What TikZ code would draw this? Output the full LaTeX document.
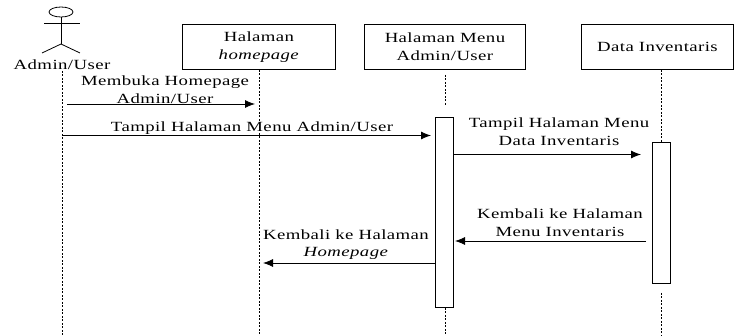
\documentclass[tikz,border=0pt]{standalone}
\usepackage{fontspec}
\setmainfont[FakeStretch=1.34,LetterSpace=3]{Liberation Serif}
\usetikzlibrary{arrows.meta, shapes.geometric}

\begin{document}
\begin{tikzpicture}[
		x=1pt, y=-1pt,
		every node/.style={font=\fontsize{14}{17.5}\selectfont, align=center},
		pagebox/.style={rectangle, draw, line width=0.9pt, anchor=north west, inner sep=0pt},
		activebox/.style={rectangle, draw, line width=0.9pt, fill=white, anchor=north, minimum width=18pt, inner sep=0pt},
		lifeline/.style={dash pattern=on 2pt off 1.5pt, line width=0.9pt},
		message/.style={-{Latex[length=10pt,width=8pt]}, line width=0.8pt},
		stick/.style={line width=0.8pt}
	]
	\useasboundingbox (0,0) rectangle (734,336);

	% aktor
	\node[ellipse, draw, stick, minimum width=24pt, minimum height=10pt, inner sep=0pt] (head) at (61,12) {};
	\coordinate (armL) at (44,23.5);
	\coordinate (armR) at (80,23.5);
	\coordinate (hip) at (61,44);
	\coordinate (legL) at (42,53);
	\coordinate (legR) at (80,53);
	\draw[stick] (head.south) -- (hip);
	\draw[stick] (armL) -- (armR);
	\draw[stick] (legL) -- (hip) -- (legR);
	\node (actor) at (62,65) {Admin/User};

	% halaman
	\node[pagebox, minimum width=153pt, minimum height=45pt] (home) at (182,24) {Halaman\\\textit{homepage}};
	\node[pagebox, minimum width=161pt, minimum height=45pt] (menu) at (364,24) {Halaman Menu\\Admin/User};
	\node[pagebox, minimum width=152pt, minimum height=45pt] (data) at (581,24) {Data Inventaris};

	% lifeline
	\coordinate (actorTop) at (62.5,71);
	\coordinate (actorEnd) at (62.5,336);
	\coordinate (homeEnd) at (259,336);
	\coordinate (menuTop) at (445,75);
	\coordinate (menuMid) at (445,105);
	\coordinate (menuEnd) at (445,336);
	\coordinate (dataMid) at (661,293);
	\coordinate (dataEnd) at (661,336);

	\node[activebox, minimum height=190pt] (menuAct) at (444.5,117) {};
	\node[activebox, minimum height=141pt] (dataAct) at (661,142) {};

	\draw[lifeline] (actorTop) -- (actorEnd);
	\draw[lifeline] (home.south -| homeEnd) -- (homeEnd);
	\draw[lifeline] (menuTop) -- (menuMid);
	\draw[lifeline] (menuAct.south -| menuEnd) -- (menuEnd);
	\draw[lifeline] (data.south -| dataEnd) -- (dataAct.north);
	\draw[lifeline] (dataMid) -- (dataEnd);

	% pesan
	\coordinate (m1a) at (67,104);
	\coordinate (m1b) at (255,104);
	\coordinate (m2a) at (62.5,135.5);
	\coordinate (m2b) at (431,135.5);
	\coordinate (m3a) at (453.5,154.5);
	\coordinate (m3b) at (641,154.5);
	\coordinate (m4a) at (646,241);
	\coordinate (m4b) at (455,241);
	\coordinate (m5a) at (435.5,263);
	\coordinate (m5b) at (263,263);

	\draw[message] (m1a) -- (m1b);
	\draw[message] (m2a) -- (m2b);
	\draw[message] (m3a) -- (m3b);
	\draw[message] (m4a) -- (m4b);
	\draw[message] (m5a) -- (m5b);

	\node (m1text) at (165,89.5) {Membuka Homepage\\Admin/User};
	\node (m2text) at (252,128) {Tampil Halaman Menu Admin/User};
	\node (m3text) at (559,131.5) {Tampil Halaman Menu\\Data Inventaris};
	\node (m4text) at (560,222.5) {Kembali ke Halaman\\Menu Inventaris};
	\node (m5text) at (346,244.5) {Kembali ke Halaman\\\textit{Homepage}};
\end{tikzpicture}
\end{document}
